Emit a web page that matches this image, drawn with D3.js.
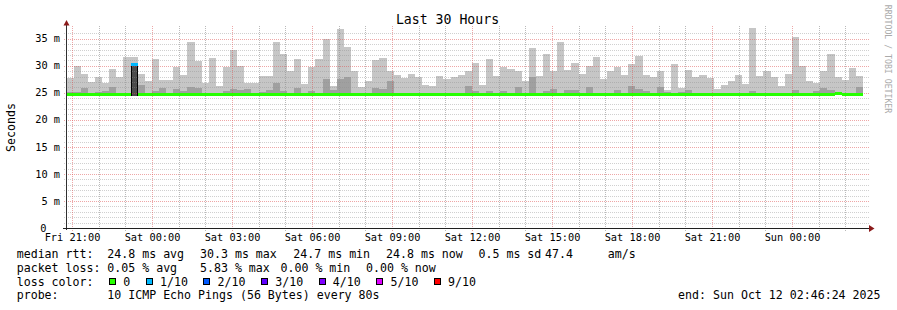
<!DOCTYPE html>
<html>
<head>
<meta charset="utf-8">
<script src="https://cdn.jsdelivr.net/npm/d3@7"></script>
<style>
  html, body { margin: 0; padding: 0; background: #fff; }
  svg { display: block; }
  text { font-family: "DejaVu Sans Mono", monospace; fill: #000; }
</style>
</head>
<body>
<svg id="chart" width="897" height="310"></svg>
<script>
// Smokeping "Last 30 Hours" graph, 10 pings per probe, 16 minute bins.
const title = 'Last 30 Hours';
const endTime = Date.UTC(2025, 9, 12, 2, 46, 24);
const spanHours = 30;
const binSeconds = 960;
const yMax = 37;
const yTicks = [0, 5, 10, 15, 20, 25, 30, 35];

// top of the light smoke (outer pings), ms
const smokeOuter = [
  27.8, 30.0, 28.5, 27.0, 28.0, 26.9, 29.5, 28.0, 31.7, 31.7, 28.5, 27.2, 31.3, 27.4,
  27.4, 29.7, 28.3, 34.4, 30.9, 26.9, 31.5, 26.3, 29.8, 33.0, 30.0, 26.9, 26.8, 28.1,
  28.1, 34.5, 32.2, 29.0, 31.2, 26.7, 29.7, 31.2, 34.9, 26.3, 36.9, 33.5, 29.0, 26.1,
  27.2, 31.0, 31.5, 29.0, 28.3, 27.8, 28.5, 28.0, 26.5, 26.3, 28.1, 27.5, 28.0, 28.3,
  29.0, 30.5, 26.5, 31.3, 28.1, 29.7, 29.5, 29.0, 27.2, 33.3, 28.1, 32.2, 29.0, 34.4,
  29.3, 30.5, 28.5, 30.0, 31.7, 27.6, 29.0, 29.7, 28.3, 30.4, 31.9, 28.3, 28.0, 29.0,
  25.6, 30.3, 25.9, 29.3, 28.0, 28.3, 27.8, 25.7, 26.5, 27.2, 28.3, 26.7, 37.0, 28.1,
  29.1, 28.0, 26.3, 28.5, 35.4, 30.0, 27.2, 26.9, 29.1, 32.2, 28.0, 27.4, 29.6, 28.1
];

// top of the darker smoke (inner pings), ms
const smokeInner = [
  25.2, 25.2, 25.9, 25.0, 25.2, 25.4, 26.1, 25.0, 25.0, 25.0, 26.5, 25.0, 25.3, 25.9,
  25.0, 25.7, 25.4, 26.1, 25.9, 25.0, 25.0, 25.0, 25.3, 25.7, 25.5, 25.8, 25.0, 25.2,
  25.5, 26.8, 25.3, 25.0, 25.9, 25.0, 25.4, 25.0, 27.5, 25.5, 27.5, 28.0, 25.0, 25.0,
  25.0, 25.9, 25.7, 27.2, 25.0, 25.0, 25.0, 25.0, 25.0, 25.0, 25.0, 25.0, 25.0, 25.0,
  26.2, 25.4, 25.0, 25.4, 25.0, 25.4, 25.0, 26.1, 25.0, 28.0, 25.0, 25.4, 25.7, 25.0,
  25.5, 25.5, 25.0, 26.1, 25.0, 25.0, 25.0, 25.5, 25.0, 26.3, 25.8, 25.4, 25.0, 26.1,
  25.2, 25.0, 25.2, 25.5, 25.0, 25.0, 25.0, 25.0, 25.0, 25.0, 25.0, 25.0, 25.4, 25.0,
  25.0, 25.0, 25.0, 25.0, 25.6, 25.0, 25.0, 25.3, 25.9, 25.6, 25.0, 25.0, 25.0, 26.0
];

// median rtt, ms
const medianRtt = [
  24.8, 24.8, 24.8, 24.8, 24.8, 24.8, 24.8, 24.8, 24.8, 30.3, 24.8, 24.7, 24.8, 24.8,
  24.8, 24.8, 24.8, 24.7, 24.7, 24.8, 24.8, 24.8, 24.8, 24.8, 24.8, 24.8, 24.8, 24.7,
  24.7, 24.8, 24.8, 24.7, 24.8, 24.8, 24.8, 24.8, 24.8, 24.8, 24.8, 24.8, 24.8, 24.8,
  24.8, 24.8, 24.8, 24.8, 24.8, 24.8, 24.8, 24.8, 24.8, 24.8, 24.8, 24.8, 24.8, 24.8,
  24.8, 24.8, 24.8, 24.8, 24.8, 24.8, 24.8, 24.8, 24.8, 24.8, 24.8, 24.8, 24.8, 24.8,
  24.8, 24.8, 24.8, 24.8, 24.8, 24.8, 24.8, 24.8, 24.8, 24.8, 24.8, 24.8, 24.8, 24.8,
  24.8, 24.8, 24.8, 24.8, 24.8, 24.8, 24.8, 24.7, 24.8, 24.8, 24.8, 24.8, 24.8, 24.8,
  24.8, 24.8, 24.8, 24.8, 24.8, 24.8, 24.8, 24.8, 24.8, 24.8, 24.9, 24.8, 24.8, 24.8
];

// lost pings (out of 10) per bin
const lossCount = [
  0, 0, 0, 0, 0, 0, 0, 0, 0, 1, 0, 0, 0, 0,
  0, 0, 0, 0, 0, 0, 0, 0, 0, 0, 0, 0, 0, 0,
  0, 0, 0, 0, 0, 0, 0, 0, 0, 0, 0, 0, 0, 0,
  0, 0, 0, 0, 0, 0, 0, 0, 0, 0, 0, 0, 0, 0,
  0, 0, 0, 0, 0, 0, 0, 0, 0, 0, 0, 0, 0, 0,
  0, 0, 0, 0, 0, 0, 0, 0, 0, 0, 0, 0, 0, 0,
  0, 0, 0, 0, 0, 0, 0, 0, 0, 0, 0, 0, 0, 0,
  0, 0, 0, 0, 0, 0, 0, 0, 0, 0, 0, 0, 0, 0
];

const lossLabels = ['0', '1/10', '2/10', '3/10', '4/10', '5/10', '9/10'];
const lossColors = ['#26ff00', '#00b8ff', '#0059ff', '#5e00ff', '#7e00ff', '#dd00ff', '#ff0000'];

const rttStats = ['24.8 ms avg', '30.3 ms max', '24.7 ms min', '24.8 ms now', '0.5 ms sd', '47.4', 'am/s'];
const lossStats = ['0.05 % avg', '5.83 % max', '0.00 % min', '0.00 % now'];
const probeText = '10 ICMP Echo Pings (56 Bytes) every 80s';

const svg = d3.select('#chart');
const plot = { left: 66.5, right: 866.5, top: 28, bottom: 228 };
const charW = 6.98; // DejaVu Sans Mono advance at 11.6px

const startTime = endTime - spanHours * 3600e3;
const x = d3.scaleUtc()
  .domain([new Date(startTime), new Date(endTime)])
  .range([plot.left, plot.right]);
const y = d3.scaleLinear().domain([0, yMax]).range([plot.bottom, plot.top]);

const bins = smokeOuter.map((hi, i) => ({
  t0: new Date(startTime + i * binSeconds * 1000),
  t1: new Date(startTime + (i + 1) * binSeconds * 1000),
  hi, inner: smokeInner[i], median: medianRtt[i], loss: lossCount[i]
}));
const bx = d => x(d.t0);
const bw = d => x(d.t1) - x(d.t0);

svg.append('rect').attr('width', 897).attr('height', 310).attr('fill', '#fff');

// smoke: light outer band, darker inner band
const smoke = svg.append('g').attr('shape-rendering', 'crispEdges');
smoke.selectAll('rect.outer')
  .data(bins)
  .join('rect')
    .attr('class', 'outer')
    .attr('x', bx).attr('width', bw)
    .attr('y', d => y(d.hi))
    .attr('height', d => y(d.median) - y(d.hi))
    .attr('fill', '#c6c6c6');
smoke.selectAll('rect.inner')
  .data(bins.filter(d => d.inner > d.median))
  .join('rect')
    .attr('class', 'inner')
    .attr('x', bx).attr('width', bw)
    .attr('y', d => y(d.inner))
    .attr('height', d => y(d.median) - y(d.inner))
    .attr('fill', '#a0a0a0');

// bins with loss: the pings below the raised median show as a dark column
const floorRtt = d3.min(medianRtt);
const lossBins = bins.filter(d => d.loss > 0);
smoke.selectAll('rect.core')
  .data(lossBins)
  .join('rect')
    .attr('class', 'core')
    .attr('x', bx).attr('width', bw)
    .attr('y', d => y(d.median))
    .attr('height', d => y(floorRtt) + 1.7 - y(d.median))
    .attr('fill', '#4b4b4b');
smoke.selectAll('line.core-side')
  .data(lossBins.flatMap(d => [{ d, t: d.t0, dx: 0.5 }, { d, t: d.t1, dx: -0.5 }]))
  .join('line')
    .attr('class', 'core-side')
    .attr('x1', s => Math.round(x(s.t)) + s.dx).attr('x2', s => Math.round(x(s.t)) + s.dx)
    .attr('y1', s => y(s.d.median) - 1).attr('y2', y(floorRtt) + 1.7)
    .attr('stroke', '#000');

// grid, drawn over the smoke like rrdtool does; dotted lines are built
// from 1px dots so they stay crisp
const minorY = d3.range(1, yMax).filter(v => v % 5 !== 0);
const hours = x.ticks(d3.utcHour.every(1));
const majorHours = hours.filter(d => d.getUTCHours() % 3 === 0);
const minorHours = hours.filter(d => d.getUTCHours() % 3 !== 0);
const hy = v => Math.round(y(v));
const vx = t => Math.floor(x(t));
const minorHColor = 'rgba(143,143,143,0.42)';
const minorVColor = 'rgba(143,143,143,0.62)';
const majorColor = 'rgba(222,80,80,0.5)';

const hDots = d3.range(Math.floor(plot.left) - 2, Math.ceil(plot.right) + 3, 2);
const vDots = d3.range(plot.top - 2, plot.bottom + 3, 2);

function dottedH(g, values, color) {
  g.append('path')
    .attr('fill', color)
    .attr('d', values.map(v => hDots.map(px => `M${px},${hy(v)}h1v1h-1z`).join('')).join(''));
}
function dottedV(g, times, color) {
  g.append('path')
    .attr('fill', color)
    .attr('d', times.map(t => vDots.map(py => `M${vx(t)},${py}h1v1h-1z`).join('')).join(''));
}

const grid = svg.append('g').attr('shape-rendering', 'crispEdges');
dottedH(grid, minorY, minorHColor);
dottedV(grid, minorHours, minorVColor);
dottedH(grid, yTicks.filter(v => v > 0), majorColor);
dottedV(grid, majorHours, majorColor);

// median rtt, coloured by loss
svg.append('g').attr('shape-rendering', 'crispEdges')
  .selectAll('rect')
  .data(bins)
  .join('rect')
    .attr('x', bx).attr('width', bw)
    .attr('y', d => y(d.median) - 1)
    .attr('height', 2.7)
    .attr('fill', d => lossColors[d.loss]);

// axes with arrows
const axis = svg.append('g').attr('shape-rendering', 'crispEdges');
axis.append('line')
  .attr('x1', plot.left).attr('x2', plot.left)
  .attr('y1', plot.bottom + 2).attr('y2', plot.top - 6)
  .attr('stroke', '#303030');
axis.append('line')
  .attr('x1', plot.left - 4).attr('x2', plot.right + 3)
  .attr('y1', plot.bottom + 0.5).attr('y2', plot.bottom + 0.5)
  .attr('stroke', '#202020');
svg.append('path')
  .attr('d', `M${plot.left - 3},${plot.top - 2.5}L${plot.left + 3},${plot.top - 2.5}L${plot.left},${plot.top - 8}Z`)
  .attr('fill', '#8b1a1a');
svg.append('path')
  .attr('d', `M${plot.right + 2.5},${plot.bottom - 3}L${plot.right + 2.5},${plot.bottom + 4}L${plot.right + 8},${plot.bottom + 0.5}Z`)
  .attr('fill', '#8b1a1a');

// tick labels
svg.append('g')
  .selectAll('text')
  .data(yTicks)
  .join('text')
    .attr('x', v => v === 0 ? 46.5 : 60)
    .attr('y', v => y(v) + 3.6)
    .attr('text-anchor', 'end')
    .attr('font-size', '10.3px')
    .text(v => v === 0 ? '0' : `${v} m`);

const hourFmt = d3.utcFormat('%a %H:%M');
svg.append('g')
  .selectAll('text')
  .data(majorHours)
  .join('text')
    .attr('x', d => x(d))
    .attr('y', 241)
    .attr('text-anchor', 'middle')
    .attr('font-size', '10.3px')
    .text(hourFmt);

svg.append('text')
  .attr('x', 447.5).attr('y', 24)
  .attr('text-anchor', 'middle')
  .attr('font-size', '13.2px')
  .text(title);

svg.append('text')
  .attr('transform', 'translate(15,127.5) rotate(-90)')
  .attr('text-anchor', 'middle')
  .attr('font-size', '11.6px')
  .text('Seconds');

svg.append('text')
  .attr('transform', 'translate(885,59) rotate(90)')
  .attr('text-anchor', 'middle')
  .attr('font-size', '8.2px')
  .style('fill', '#aaaaaa')
  .text('RRDTOOL / TOBI OETIKER');

// legend block
const legend = svg.append('g').attr('font-size', '11.6px');
const rowY = i => 258.3 + i * 13.67;
const labelX = 16.7, valueX = 107.3;

legend.append('text').attr('x', labelX).attr('y', rowY(0)).text('median rtt:');
const rttX = [107.3, 200, 293.3, 386, 478.5, 545, 607.7];
legend.selectAll('text.rtt').data(rttStats).join('text')
  .attr('class', 'rtt')
  .attr('x', (d, i) => rttX[i]).attr('y', rowY(0))
  .text(d => d);

legend.append('text').attr('x', labelX).attr('y', rowY(1)).text('packet loss:');
const lossX = [107.3, 200, 280.5, 366];
legend.selectAll('text.loss').data(lossStats).join('text')
  .attr('class', 'loss')
  .attr('x', (d, i) => lossX[i]).attr('y', rowY(1))
  .text(d => d);

legend.append('text').attr('x', labelX).attr('y', rowY(2)).text('loss color:');
let cursor = 109;
const swatches = lossLabels.map((label, i) => {
  const item = { label, color: lossColors[i], x: cursor };
  cursor += 14.3 + label.length * charW + 15.4;
  return item;
});
const sw = legend.selectAll('g.swatch').data(swatches).join('g').attr('class', 'swatch');
sw.append('rect')
  .attr('x', d => Math.round(d.x) + 0.5).attr('y', 278.5)
  .attr('width', 6).attr('height', 6)
  .attr('fill', d => d.color)
  .attr('stroke', '#000')
  .attr('shape-rendering', 'crispEdges');
sw.append('text')
  .attr('x', d => d.x + 14.3).attr('y', rowY(2))
  .text(d => d.label);

legend.append('text').attr('x', labelX).attr('y', rowY(3)).text('probe:');
legend.append('text').attr('x', valueX).attr('y', rowY(3)).text(probeText);

const endFmt = d3.utcFormat('%a %b %d %H:%M:%S %Y');
legend.append('text')
  .attr('x', 880.5).attr('y', rowY(3))
  .attr('text-anchor', 'end')
  .text(`end: ${endFmt(new Date(endTime))}`);
</script>
</body>
</html>
